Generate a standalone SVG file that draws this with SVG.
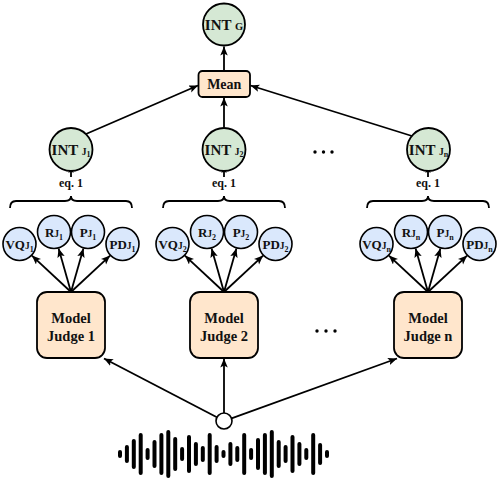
<svg xmlns="http://www.w3.org/2000/svg" width="500" height="482" viewBox="0 0 500 482">
<defs>
<style>
.t{font-family:"Liberation Serif","Times New Roman",serif;font-weight:bold;fill:#111;text-anchor:middle}
.g{fill:#d5e8d4;stroke:#000;stroke-width:1.8}
.b{fill:#dae8fc;stroke:#000;stroke-width:1.6}
.o{fill:#ffe6cc;stroke:#000;stroke-width:1.8}
.ln{fill:none;stroke:#000;stroke-width:1.8}
.big{font-size:15px}
.sm{font-size:13px}
.jb{font-size:9.5px}
.sb{font-size:8px}
.lb{font-size:14.5px}
</style>
<marker id="ah" markerUnits="userSpaceOnUse" markerWidth="10" markerHeight="8" refX="9" refY="3.75" orient="auto">
<path d="M0,0 L9,3.75 L0,7.5 L2,3.75 Z" fill="#000"/>
</marker>
<marker id="as" markerUnits="userSpaceOnUse" markerWidth="7" markerHeight="6" refX="6" refY="2.75" orient="auto">
<path d="M0,0 L6,2.75 L0,5.5 L1.5,2.75 Z" fill="#000"/>
</marker>
</defs>
<rect width="500" height="482" fill="#fff"/>

<g id="connectors">
<line class="ln" x1="224" y1="71" x2="224" y2="46.5" marker-end="url(#ah)"/>
<line class="ln" x1="86" y1="134" x2="198" y2="85.5" marker-end="url(#ah)"/>
<line class="ln" x1="224" y1="127.5" x2="224" y2="97.5" marker-end="url(#ah)"/>
<line class="ln" x1="412" y1="136" x2="250.5" y2="85.5" marker-end="url(#ah)"/>
<line class="ln" x1="71" y1="177" x2="71" y2="167" marker-end="url(#as)"/>
<line class="ln" x1="224" y1="177" x2="224" y2="167" marker-end="url(#as)"/>
<line class="ln" x1="428" y1="177" x2="428" y2="167" marker-end="url(#as)"/>
<path class="ln" d="M10,208 Q10,201 16,201 L65,201 Q71,201 71,196 Q71,201 77,201 L126,201 Q132,201 132,208"/>
<path class="ln" d="M163,208 Q163,201 169,201 L218,201 Q224,201 224,196 Q224,201 230,201 L279,201 Q285,201 285,208"/>
<path class="ln" d="M367,208 Q367,201 373,201 L422,201 Q428,201 428,196 Q428,201 434,201 L483,201 Q489,201 489,208"/>
<line class="ln" x1="71" y1="292" x2="31.9" y2="255.6" marker-end="url(#ah)"/>
<line class="ln" x1="71" y1="292" x2="58.6" y2="248.4" marker-end="url(#ah)"/>
<line class="ln" x1="71" y1="292" x2="83.4" y2="248.4" marker-end="url(#ah)"/>
<line class="ln" x1="71" y1="292" x2="110.1" y2="255.6" marker-end="url(#ah)"/>
<line class="ln" x1="224" y1="292" x2="184.9" y2="255.6" marker-end="url(#ah)"/>
<line class="ln" x1="224" y1="292" x2="211.6" y2="248.4" marker-end="url(#ah)"/>
<line class="ln" x1="224" y1="292" x2="236.4" y2="248.4" marker-end="url(#ah)"/>
<line class="ln" x1="224" y1="292" x2="263.1" y2="255.6" marker-end="url(#ah)"/>
<line class="ln" x1="428" y1="292" x2="388.9" y2="255.6" marker-end="url(#ah)"/>
<line class="ln" x1="428" y1="292" x2="415.6" y2="248.4" marker-end="url(#ah)"/>
<line class="ln" x1="428" y1="292" x2="440.4" y2="248.4" marker-end="url(#ah)"/>
<line class="ln" x1="428" y1="292" x2="467.1" y2="255.6" marker-end="url(#ah)"/>
<line class="ln" x1="216.9" y1="417.3" x2="104" y2="358.5" marker-end="url(#ah)"/>
<line class="ln" x1="224" y1="413" x2="224" y2="358.5" marker-end="url(#ah)"/>
<line class="ln" x1="231.5" y1="418.3" x2="397" y2="358.5" marker-end="url(#ah)"/>
</g>

<g id="int-g">
<circle class="g" cx="224" cy="24.5" r="21"/>
<text class="t big" x="224" y="29.5">INT <tspan font-size="10.5px">G</tspan></text>
</g>
<g id="mean">
<rect class="o" x="198.5" y="71" width="51.5" height="26" rx="4"/>
<text class="t" font-size="14" x="224.25" y="89">Mean</text>
</g>

<g id="int-j1">
<circle class="g" cx="71" cy="149.5" r="21.5"/>
<text class="t big" x="71" y="154.5">INT <tspan class="jb">J</tspan><tspan class="sb" dy="2">1</tspan></text>
</g>
<g id="int-j2">
<circle class="g" cx="224" cy="149.5" r="21.5"/>
<text class="t big" x="224" y="154.5">INT <tspan class="jb">J</tspan><tspan class="sb" dy="2">2</tspan></text>
</g>
<g id="int-jn">
<circle class="g" cx="428.5" cy="149.5" r="21.5"/>
<text class="t big" x="428.5" y="154.5">INT <tspan class="jb">J</tspan><tspan class="sb" dy="2">n</tspan></text>
</g>

<g id="eq-labels">
<text class="t" font-size="12" x="71" y="187">eq. 1</text>
<text class="t" font-size="12" x="224" y="187">eq. 1</text>
<text class="t" font-size="12" x="428" y="187">eq. 1</text>
</g>

<g id="dots">
<circle cx="315" cy="152" r="1.7" fill="#000"/>
<circle cx="323.5" cy="152" r="1.7" fill="#000"/>
<circle cx="332" cy="152" r="1.7" fill="#000"/>
<circle cx="317" cy="331" r="1.7" fill="#000"/>
<circle cx="326" cy="331" r="1.7" fill="#000"/>
<circle cx="335" cy="331" r="1.7" fill="#000"/>
</g>

<g id="j1-scores">
<circle class="b" cx="19.5" cy="244" r="16.5"/>
<text class="t sm" x="19.5" y="248.5">VQ<tspan class="jb">J</tspan><tspan class="sb" dy="3">1</tspan></text>
<circle class="b" cx="54" cy="232" r="16.5"/>
<text class="t sm" x="54" y="236.5">R<tspan class="jb">J</tspan><tspan class="sb" dy="3">1</tspan></text>
<circle class="b" cx="88" cy="232" r="16.5"/>
<text class="t sm" x="88" y="236.5">P<tspan class="jb">J</tspan><tspan class="sb" dy="3">1</tspan></text>
<circle class="b" cx="122.5" cy="244" r="16.5"/>
<text class="t sm" x="122.5" y="248.5">PD<tspan class="jb">J</tspan><tspan class="sb" dy="3">1</tspan></text>
</g>
<g id="j2-scores">
<circle class="b" cx="172.5" cy="244" r="16.5"/>
<text class="t sm" x="172.5" y="248.5">VQ<tspan class="jb">J</tspan><tspan class="sb" dy="3">2</tspan></text>
<circle class="b" cx="207" cy="232" r="16.5"/>
<text class="t sm" x="207" y="236.5">R<tspan class="jb">J</tspan><tspan class="sb" dy="3">2</tspan></text>
<circle class="b" cx="241" cy="232" r="16.5"/>
<text class="t sm" x="241" y="236.5">P<tspan class="jb">J</tspan><tspan class="sb" dy="3">2</tspan></text>
<circle class="b" cx="275.5" cy="244" r="16.5"/>
<text class="t sm" x="275.5" y="248.5">PD<tspan class="jb">J</tspan><tspan class="sb" dy="3">2</tspan></text>
</g>
<g id="jn-scores">
<circle class="b" cx="376.5" cy="244" r="16.5"/>
<text class="t sm" x="376.5" y="248.5">VQ<tspan class="jb">J</tspan><tspan class="sb" dy="3">n</tspan></text>
<circle class="b" cx="411" cy="232" r="16.5"/>
<text class="t sm" x="411" y="236.5">R<tspan class="jb">J</tspan><tspan class="sb" dy="3">n</tspan></text>
<circle class="b" cx="445" cy="232" r="16.5"/>
<text class="t sm" x="445" y="236.5">P<tspan class="jb">J</tspan><tspan class="sb" dy="3">n</tspan></text>
<circle class="b" cx="479.5" cy="244" r="16.5"/>
<text class="t sm" x="479.5" y="248.5">PD<tspan class="jb">J</tspan><tspan class="sb" dy="3">n</tspan></text>
</g>

<g id="judge-1">
<rect class="o" x="37" y="292" width="68" height="66" rx="10"/>
<text class="t lb" x="71" y="323">Model</text>
<text class="t lb" x="71" y="341">Judge 1</text>
</g>
<g id="judge-2">
<rect class="o" x="190" y="292" width="68" height="66" rx="10"/>
<text class="t lb" x="224" y="323">Model</text>
<text class="t lb" x="224" y="341">Judge 2</text>
</g>
<g id="judge-n">
<rect class="o" x="394" y="292" width="68" height="66" rx="10"/>
<text class="t lb" x="428" y="323">Model</text>
<text class="t lb" x="428" y="341">Judge n</text>
</g>

<g id="input">
<circle cx="224" cy="421" r="8" fill="#fff" stroke="#000" stroke-width="1.6"/>
</g>

<g id="waveform">
<path fill="none" stroke="#000" stroke-width="4" stroke-linecap="round" d="M120 452V456M126.9 447V461M133.8 441V467M140.7 435V473M147.6 450V458M154.5 442V466M161.4 435V473M168.3 432V476M175.2 439V469M182.1 449V459M189 437V471M195.9 444V464M202.8 448V460M209.7 435V473M216.6 447V461M223.5 452V456M230.4 444V464M237.3 448V460M244.2 435V473M251.1 450V458M258 440V468M264.9 435V473M271.8 432V476M278.7 442V466M285.6 447V461M292.5 437V471M299.4 444V464M306.3 450V458M313.2 435V473M320.1 445V463M327 452V456"/>
</g>
</svg>
